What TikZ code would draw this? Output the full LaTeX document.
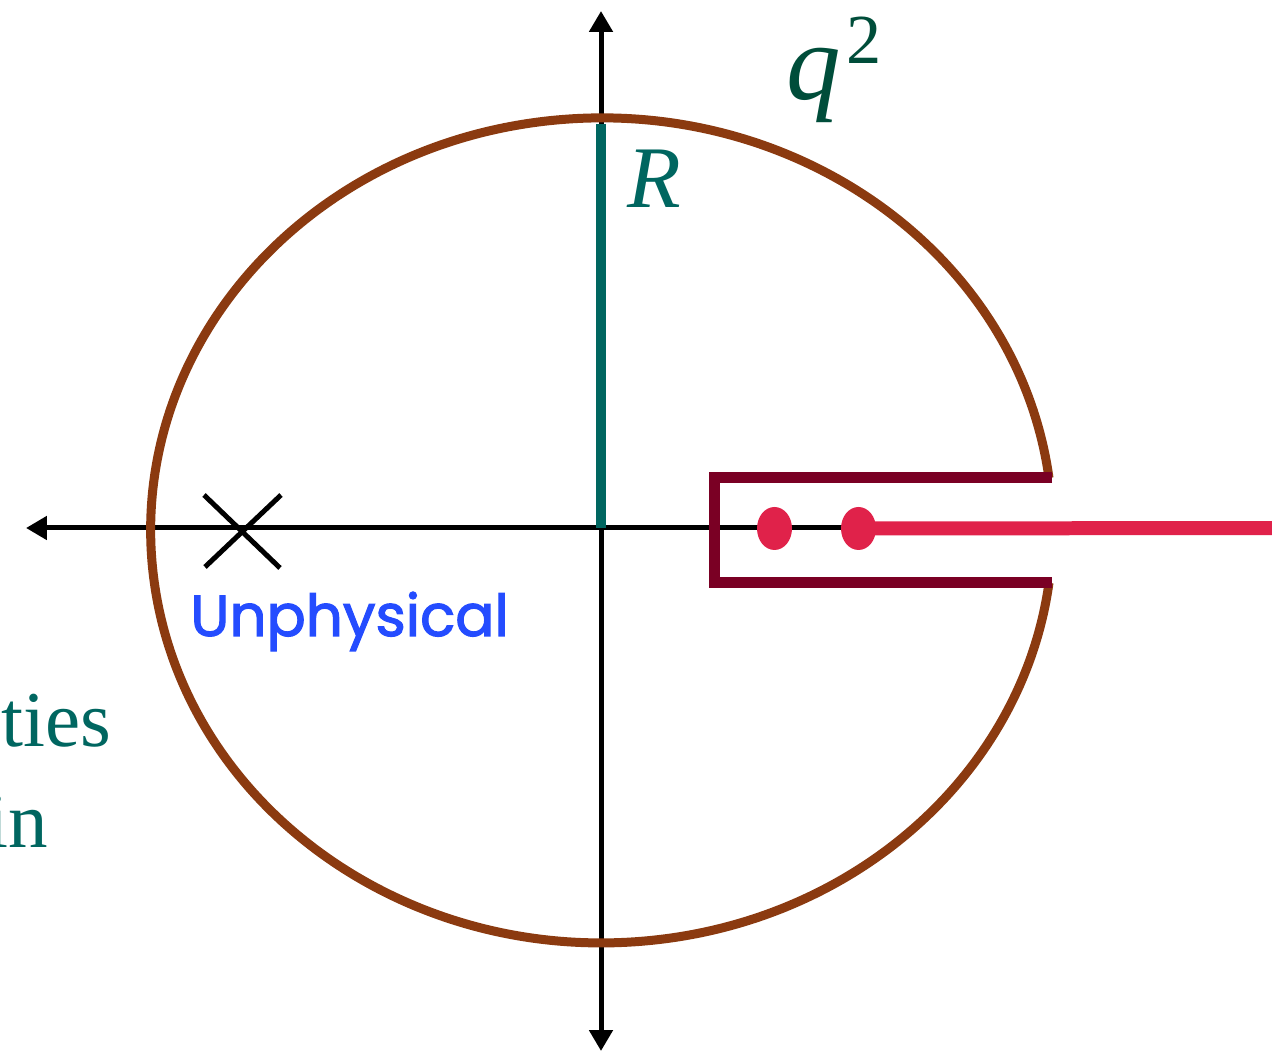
\documentclass[tikz,border=0pt]{standalone}
\usepackage{fontspec}
\setmainfont{Liberation Serif}
\newfontfamily\roundfont[FakeBold=2]{Poppins}
\usetikzlibrary{arrows.meta}
\definecolor{ellbrown}{RGB}{139,58,16}
\definecolor{contmaroon}{RGB}{122,0,36}
\definecolor{cutred}{RGB}{224,34,74}
\definecolor{tealR}{RGB}{0,102,96}
\definecolor{qgreen}{RGB}{0,77,58}
\definecolor{unblue}{RGB}{36,76,255}
\tikzset{
  axis/.style={line width=0.1cm, -{Triangle[length=0.42cm,width=0.46cm]}},
  ellipseline/.style={line width=0.18cm, draw=ellbrown},
  contour/.style={line width=0.22cm, draw=contmaroon, line join=miter},
  cutline/.style={line width=0.28cm, draw=cutred},
  pole/.style={fill=cutred, draw=none},
  radius line/.style={line width=0.2cm, draw=tealR},
  xmark/.style={line width=0.1cm},
}
\begin{document}
\begin{tikzpicture}[x=0.02cm,y=-0.02cm]
\useasboundingbox (0,0) rectangle (1272,1053);
% axes
\coordinate (O) at (601,528);
\coordinate (xl) at (26,528);
\coordinate (yt) at (601,11);
\coordinate (yb) at (601,1051);
\coordinate (cutend) at (1290,528);
\draw[axis] (O) -- (xl);
\draw[axis] (O) -- (yt);
\draw[axis] (O) -- (yb);
\draw[line width=0.1cm] (O) -- (858,528);
% ellipse contour
\draw[ellipseline] (1049,478) arc[start angle=-7.3, end angle=-352.7, x radius=451, y radius=412.5];
% radius line
\coordinate (Rtop) at (601,124);
\draw[radius line] (Rtop) -- (O);
% keyhole contour
\coordinate (c1) at (1052,478);
\coordinate (c2) at (714,478);
\coordinate (c3) at (714,583);
\coordinate (c4) at (1052,583);
\draw[contour] (c1) -- (c2) -- (c3) -- (c4);
% poles and cut
\coordinate (p1) at (774.5,528.5);
\coordinate (p2) at (858.5,528.5);
\draw[cutline] (p2) -- (cutend);
\fill[pole] (p1) ellipse[x radius=17.5, y radius=21.5];
\fill[pole] (p2) ellipse[x radius=17.5, y radius=21.5];
% unphysical point
\coordinate (xa) at (204,495);
\coordinate (xb) at (280,568);
\coordinate (xc) at (281,495);
\coordinate (xd) at (205,567);
\draw[xmark] (xa) -- (xb);
\draw[xmark] (xc) -- (xd);
% labels
\node[anchor=base west, inner sep=0, text=unblue, font=\roundfont\fontsize{33}{33}\selectfont] (unph) at (190,636) {Unphysical};
\node[anchor=base west, inner sep=0, text=tealR, font=\itshape\fontsize{50}{50}\selectfont] (Rlab) at (627,208) {R};
\node[anchor=base west, inner sep=0, text=qgreen, font=\fontsize{62}{62}\selectfont] (qlab) at (786,100) {\textit{q}\hspace{3pt}\raisebox{21pt}{\fontsize{40}{40}\selectfont 2}};
\node[anchor=base east, inner sep=0, text=tealR, font=\fontsize{45}{45}\selectfont] (ties) at (112,747) {ties};
\node[anchor=base east, inner sep=0, text=tealR, font=\fontsize{45}{45}\selectfont] (inlab) at (48,848) {in};
\end{tikzpicture}
\end{document}
